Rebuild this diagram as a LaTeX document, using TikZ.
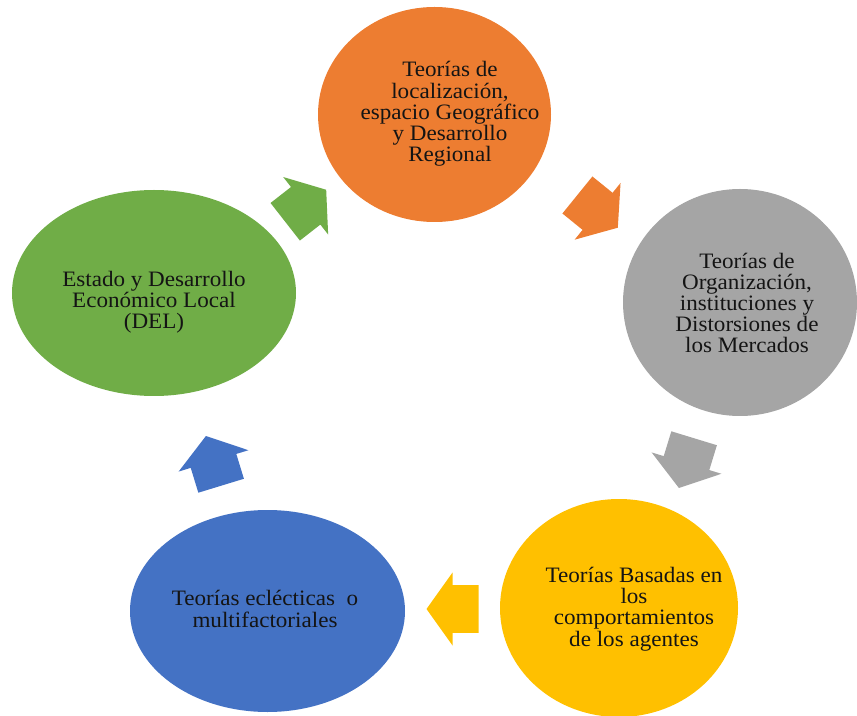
\documentclass[tikz,border=0pt]{standalone}
\usepackage{fontspec}
\setmainfont{Liberation Serif}
\usetikzlibrary{shapes.geometric,shapes.arrows}

\definecolor{cycOrange}{RGB}{237,125,49}
\definecolor{cycGray}{RGB}{165,165,165}
\definecolor{cycYellow}{RGB}{255,192,0}
\definecolor{cycBlue}{RGB}{68,114,196}
\definecolor{cycGreen}{RGB}{112,173,71}

\tikzset{every picture/.style={line width=0.75pt}}

\begin{document}
\begin{tikzpicture}[x=0.75pt,y=0.75pt,yscale=-1,xscale=1,
  bubble/.style={ellipse, draw=none, inner sep=0pt},
  bubtext/.style={align=center, text={rgb,255:red,20;green,20;blue,20}, font=\fontsize{16.5}{15.9}\selectfont, xscale=1.05},
  cyclearrow/.style={single arrow, draw=none, inner xsep=0pt, inner ysep=17.5pt, minimum height=39pt,
    single arrow head extend=9.5pt, single arrow tip angle=109}]
\useasboundingbox (0,0) rectangle (857,716);

%Ellipses
\node [bubble, fill=cycOrange, minimum width=174.75pt, minimum height=161.25pt] (geo) at (434.5,114.5) {};
\node [bubble, fill=cycGray, minimum width=175.5pt, minimum height=170.25pt] (org) at (740,302.5) {};
\node [bubble, fill=cycYellow, minimum width=178.5pt, minimum height=163.5pt] (agt) at (619,608) {};
\node [bubble, fill=cycBlue, minimum width=206.25pt, minimum height=151.5pt] (ecl) at (267.5,611) {};
\node [bubble, fill=cycGreen, minimum width=213pt, minimum height=154.5pt] (del) at (154,293) {};

%Arrows
\node [cyclearrow, fill=cycGreen, rotate=38] (adel) at (299,211) {};
\node [cyclearrow, fill=cycOrange, rotate=-39] (ageo) at (591,206) {};
\node [cyclearrow, fill=cycGray, rotate=-107] (aorg) at (689,455) {};
\node [cyclearrow, fill=cycYellow, rotate=180] (aagt) at (461,609) {};
\node [cyclearrow, fill=cycBlue, rotate=107] (aecl) at (216,469) {};

% Text Node
\node [bubtext] (tgeo) at (450,114) {Teorías de\\localización,\\espacio Geográfico\\y Desarrollo\\Regional};
% Text Node
\node [bubtext] (torg) at (747,303) {Teorías de\\Organización,\\instituciones y\\Distorsiones de\\los Mercados};
% Text Node
\node [bubtext] (tagt) at (634,609) {Teorías Basadas en\\los\\comportamientos\\de los agentes};
% Text Node
\node [bubtext] (tecl) at (265,609) {Teorías eclécticas~ o\\multifactoriales};
% Text Node
\node [bubtext] (tdel) at (154,302) {Estado y Desarrollo\\Económico Local\\(DEL)};

\end{tikzpicture}
\end{document}
